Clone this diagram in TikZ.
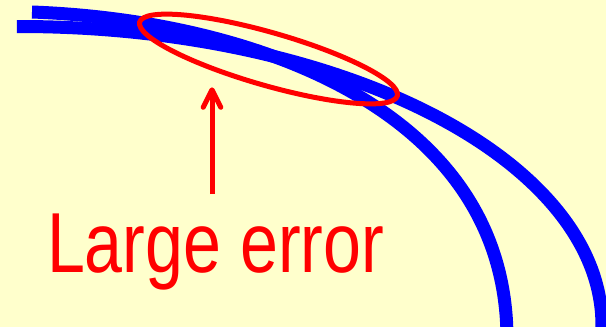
\documentclass[tikz,border=0pt]{standalone}
\usepackage{fontspec}
\newfontfamily\narrowfont{Liberation Sans}[FakeStretch=0.8]
\usetikzlibrary{shapes.geometric,arrows.meta,calc}
\definecolor{bgyellow}{HTML}{FFFFCC}
\definecolor{pblue}{HTML}{0000FF}
\definecolor{pred}{HTML}{FF0000}
\tikzset{
  curveline/.style={draw=pblue, line width=13pt, line cap=butt},
  errring/.style={ellipse, draw=pred, line width=5pt, minimum width=268pt,
    minimum height=53pt, inner sep=0pt, outer sep=0pt},
  errtext/.style={text=pred, inner sep=0pt, outer sep=0pt,
    font=\narrowfont\fontsize{85.2}{100}\selectfont},
  pointer/.style={draw=pred, line width=5pt,
    -{Straight Barb[length=17.5pt, width=17.6pt, round]}},
}
\begin{document}
\begin{tikzpicture}[x=1pt, y=-1pt]
  \useasboundingbox (0,0) rectangle (606,327);
  \fill[bgyellow] (0,0) rectangle (606,327);
  \coordinate (innerstart) at (32,12);
  \coordinate (innerc1) at (250,20);
  \coordinate (innerc2) at (508,108);
  \coordinate (innerend) at (507,340);
  \begin{scope}
    \clip (0,0) rectangle (606,327);
    % outer curve
    \draw[curveline] plot[domain=-0.3:96, samples=120, variable=\t]
      ({20+582*sin(\t)},{325-298.5*cos(\t)});
    % inner curve
    \draw[curveline] (innerstart) .. controls (innerc1) and (innerc2) .. (innerend);
  \end{scope}
  \node[errring, rotate=-16] (ring) at (268.5,59) {};
  \node[errtext, anchor=base west] (msg) at (47,272.7) {Large error};
  \coordinate (tip) at (212,87.3);
  \draw[pointer] ($(msg.north -| tip)+(0,-20)$) -- (tip);
\end{tikzpicture}
\end{document}
